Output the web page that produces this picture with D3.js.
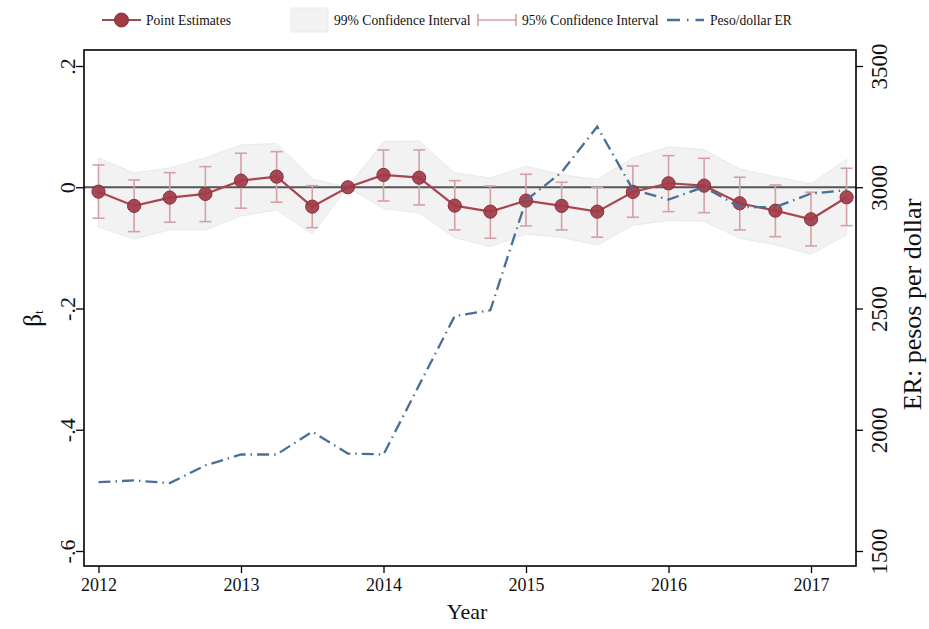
<!DOCTYPE html>
<html>
<head>
<meta charset="utf-8">
<script src="https://cdn.jsdelivr.net/npm/d3@7"></script>
<style>
  html, body { margin: 0; padding: 0; background: #fff; }
  svg { display: block; font-family: "Liberation Serif", "Times New Roman", serif; }
</style>
</head>
<body>
<svg id="chart" width="929" height="629"></svg>
<script>
// Quarterly periods, 2012Q1 .. 2017Q2
const periods = [2012, 2012.25, 2012.5, 2012.75, 2013, 2013.25, 2013.5, 2013.75,
  2014, 2014.25, 2014.5, 2014.75, 2015, 2015.25, 2015.5, 2015.75,
  2016, 2016.25, 2016.5, 2016.75, 2017, 2017.25];

// Point estimates of beta_t
const beta = [-0.0073, -0.0308, -0.0171, -0.0110, 0.0109, 0.0175, -0.0320, 0.0000,
  0.0203, 0.0158, -0.0303, -0.0402, -0.0221, -0.0308, -0.0402, -0.0077,
  0.0066, 0.0026, -0.0264, -0.0386, -0.0528, -0.0165];

// 95% confidence bounds
const ci95Hi = [0.0368, 0.0120, 0.0241, 0.0340, 0.0561, 0.0587, 0.0026, 0.0000,
  0.0615, 0.0615, 0.0109, 0.0021, 0.0214, 0.0082, 0.0000, 0.0351,
  0.0521, 0.0478, 0.0165, 0.0038, -0.0082, 0.0313];
const ci95Lo = [-0.0511, -0.0732, -0.0577, -0.0567, -0.0346, -0.0247, -0.0666, 0.0000,
  -0.0226, -0.0292, -0.0704, -0.0841, -0.0638, -0.0704, -0.0824, -0.0495,
  -0.0402, -0.0419, -0.0704, -0.0815, -0.0968, -0.0633];

// 99% confidence bounds
const ci99Hi = [0.0483, 0.0236, 0.0318, 0.0483, 0.0697, 0.0722, 0.0137, 0.0000,
  0.0754, 0.0763, 0.0236, 0.0153, 0.0348, 0.0206, 0.0130, 0.0483,
  0.0666, 0.0618, 0.0302, 0.0173, 0.0056, 0.0462];
const ci99Lo = [-0.0655, -0.0852, -0.0704, -0.0704, -0.0473, -0.0374, -0.0770, 0.0000,
  -0.0351, -0.0424, -0.0831, -0.0976, -0.0772, -0.0828, -0.0955, -0.0628,
  -0.0547, -0.0559, -0.0841, -0.0948, -0.1106, -0.0782];

// Peso/dollar exchange rate (right axis)
const exchangeRate = [1784, 1791, 1780, 1853, 1898, 1898, 1992, 1902,
  1898, 2184, 2469, 2493, 2946, 3062, 3250, 2990,
  2949, 3001, 2918, 2918, 2974, 2988];

// Tick values and labels
const yearTicks = [2012, 2013, 2014, 2015, 2016, 2017];
const betaTicks = [0.2, 0, -0.2, -0.4, -0.6];
const betaTickLabels = [".2", "0", "-.2", "-.4", "-.6"];
const erTicks = [3500, 3000, 2500, 2000, 1500];
const legendLabels = ["Point Estimates", "99% Confidence Interval", "95% Confidence Interval", "Peso/dollar ER"];

const svg = d3.select("#chart");

// Plot region
const box = { left: 84, right: 856, top: 50, bottom: 566 };

const x = d3.scaleLinear().domain([2012, 2017]).range([98.5, 811]);
const y = d3.scaleLinear().domain([-0.6, 0.2]).range([551, 66]);
const yER = d3.scaleLinear().domain([1500, 3500]).range([551, 66]);

const rows = periods.map((p, i) => ({
  t: p, b: beta[i], h95: ci95Hi[i], l95: ci95Lo[i], h99: ci99Hi[i], l99: ci99Lo[i], er: exchangeRate[i]
}));

const C = {
  band: "#f2f2f2", bandEdge: "#e9e9e9",
  est: "#a8464f", marker: "#a03b46", markerEdge: "#8b2f3a",
  ci: "#d3a0a6", er: "#4a6f95", zero: "#555555"
};

// 99% band
svg.append("path")
  .datum(rows)
  .attr("d", d3.area().x(d => x(d.t)).y0(d => y(d.l99)).y1(d => y(d.h99)))
  .attr("fill", C.band).attr("stroke", C.bandEdge).attr("stroke-width", 1);

// zero reference line
svg.append("line")
  .attr("x1", box.left).attr("x2", box.right)
  .attr("y1", y(0)).attr("y2", y(0))
  .attr("stroke", C.zero).attr("stroke-width", 2);

// 95% error bars
const cap = 6;
const eb = svg.append("g").attr("stroke", C.ci).attr("stroke-width", 1.6).attr("fill", "none");
rows.filter(d => d.h95 !== d.l95).forEach(d => {
  const cx = x(d.t);
  eb.append("line").attr("x1", cx).attr("x2", cx).attr("y1", y(d.h95)).attr("y2", y(d.l95));
  eb.append("line").attr("x1", cx - cap).attr("x2", cx + cap).attr("y1", y(d.h95)).attr("y2", y(d.h95));
  eb.append("line").attr("x1", cx - cap).attr("x2", cx + cap).attr("y1", y(d.l95)).attr("y2", y(d.l95));
});

// point-estimate line and markers
svg.append("path")
  .datum(rows)
  .attr("d", d3.line().x(d => x(d.t)).y(d => y(d.b)))
  .attr("fill", "none").attr("stroke", C.est).attr("stroke-width", 2.2);

svg.append("g").selectAll("circle").data(rows).join("circle")
  .attr("cx", d => x(d.t)).attr("cy", d => y(d.b)).attr("r", 6.6)
  .attr("fill", C.marker).attr("fill-opacity", 0.92)
  .attr("stroke", C.markerEdge).attr("stroke-width", 1);

// exchange-rate line
svg.append("path")
  .datum(rows)
  .attr("d", d3.line().x(d => x(d.t)).y(d => yER(d.er)))
  .attr("fill", "none").attr("stroke", C.er).attr("stroke-width", 2.3)
  .attr("stroke-dasharray", "12,5,1.5,5");

// frame
svg.append("rect")
  .attr("x", box.left).attr("y", box.top)
  .attr("width", box.right - box.left).attr("height", box.bottom - box.top)
  .attr("fill", "none").attr("stroke", "#000").attr("stroke-width", 1.6);

// bottom axis
const xAxis = svg.append("g").attr("transform", `translate(0,${box.bottom})`)
  .call(d3.axisBottom(x).tickValues(yearTicks).tickFormat(d3.format("d")).tickSize(7).tickPadding(5));
xAxis.select(".domain").remove();
xAxis.selectAll("line").attr("stroke", "#000").attr("stroke-width", 1.3);
xAxis.selectAll("text").attr("font-size", 18).attr("fill", "#111").attr("font-family", "Liberation Serif");

// left axis
const yAxis = svg.append("g").attr("transform", `translate(${box.left},0)`)
  .call(d3.axisLeft(y).tickValues(betaTicks).tickSize(8).tickFormat((d, i) => betaTickLabels[i]));
yAxis.select(".domain").remove();
yAxis.selectAll("line").attr("stroke", "#000").attr("stroke-width", 1.3);
yAxis.selectAll("text")
  .attr("font-size", 22).attr("fill", "#111").attr("font-family", "Liberation Serif")
  .attr("text-anchor", "middle").attr("x", null).attr("dy", null)
  .attr("transform", "translate(-17,0) rotate(-90)").attr("y", 0)
  .attr("dominant-baseline", "central");

// right axis
const rAxis = svg.append("g").attr("transform", `translate(${box.right},0)`)
  .call(d3.axisRight(yER).tickValues(erTicks).tickSize(7).tickFormat(d3.format("d")));
rAxis.select(".domain").remove();
rAxis.selectAll("line").attr("stroke", "#000").attr("stroke-width", 1.3);
rAxis.selectAll("text")
  .attr("font-size", 23).attr("fill", "#111").attr("font-family", "Liberation Serif")
  .attr("text-anchor", "middle").attr("x", null).attr("dy", null)
  .attr("transform", "translate(23,0) rotate(-90)").attr("y", 0)
  .attr("dominant-baseline", "central");

// axis titles
svg.append("text").attr("x", (box.left + box.right) / 2 - 3).attr("y", 619)
  .attr("text-anchor", "middle").attr("font-size", 22).attr("fill", "#111").text("Year");

const bt = svg.append("text").attr("transform", `translate(32,${y(-0.2) + 10}) rotate(-90)`)
  .attr("text-anchor", "middle").attr("font-size", 25).attr("fill", "#111")
  .attr("dominant-baseline", "central");
bt.append("tspan").text("β");
bt.append("tspan").attr("font-size", 13).attr("dy", 6).text("t");

svg.append("text").attr("transform", `translate(912,${y(-0.2) - 4}) rotate(-90)`)
  .attr("text-anchor", "middle").attr("font-size", 26).attr("fill", "#111")
  .attr("dominant-baseline", "central").text("ER: pesos per dollar");

// legend
const lg = svg.append("g").attr("font-size", 13.6).attr("fill", "#111");
const ly = 20;
lg.append("line").attr("x1", 102).attr("x2", 141).attr("y1", ly).attr("y2", ly)
  .attr("stroke", C.est).attr("stroke-width", 2.2);
lg.append("circle").attr("cx", 121.5).attr("cy", ly).attr("r", 7)
  .attr("fill", C.marker).attr("stroke", C.markerEdge).attr("stroke-width", 1);
lg.append("text").attr("x", 146).attr("y", ly + 5).text(legendLabels[0]);

lg.append("rect").attr("x", 291).attr("y", 8).attr("width", 37).attr("height", 24)
  .attr("fill", C.band).attr("stroke", C.bandEdge);
lg.append("text").attr("x", 334).attr("y", ly + 5).text(legendLabels[1]);

const lci = lg.append("g").attr("stroke", C.ci).attr("stroke-width", 1.6);
lci.append("line").attr("x1", 478).attr("x2", 516).attr("y1", ly).attr("y2", ly);
lci.append("line").attr("x1", 478).attr("x2", 478).attr("y1", ly - 6).attr("y2", ly + 6);
lci.append("line").attr("x1", 516).attr("x2", 516).attr("y1", ly - 6).attr("y2", ly + 6);
lg.append("text").attr("x", 522).attr("y", ly + 5).text(legendLabels[2]);

lg.append("line").attr("x1", 667).attr("x2", 704).attr("y1", ly).attr("y2", ly)
  .attr("stroke", C.er).attr("stroke-width", 2.3).attr("stroke-dasharray", "13,7,1.5,7");
lg.append("text").attr("x", 710).attr("y", ly + 5).text(legendLabels[3]);
</script>
</body>
</html>
